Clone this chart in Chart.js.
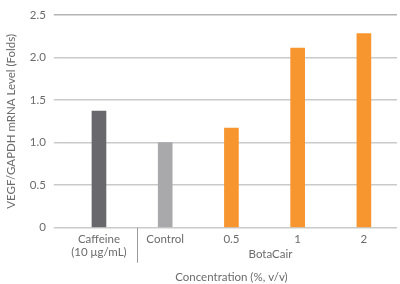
<!DOCTYPE html>
<html lang="en">
  <head>
    <meta charset="UTF-8" />
    <title>VEGF mRNA</title>
    <script src="https://cdn.jsdelivr.net/npm/chart.js@4/dist/chart.umd.min.js"></script>
    <style>
      html, body { margin: 0; padding: 0; background: #fff; }
      #wrap { width: 400px; height: 284px; }
    </style>
  </head>
  <body>
    <div id="wrap"><canvas id="chart"></canvas></div>
    <script>
      var categories = [['Caffeine', '(10 μg/mL)'], 'Control', '0.5', '1', '2'];
      var values = [1.37, 1.0, 1.17, 2.11, 2.28];
      var barColors = ['#69696d', '#a9a9ab', '#f7962f', '#f7962f', '#f7962f'];
      var groupLabel = 'BotaCair';
      var yTitle = 'VEGF/GAPDH mRNA Level (Folds)';
      var xTitle = 'Concentration (%, v/v)';

      var textColor = '#6b6b6b';
      var font = 'Lato';

      // separator under the axis and the group label
      var groupPlugin = {
        id: 'group',
        afterDraw(chart) {
          const ctx = chart.ctx;
          const x = chart.scales.x;
          const bottom = chart.chartArea.bottom;
          const p0 = x.getPixelForValue(0), p1 = x.getPixelForValue(1);
          const sep = Math.round(p0 + (p1 - p0) * 0.58);
          ctx.save();
          ctx.strokeStyle = '#9a9a9a';
          ctx.lineWidth = 1;
          ctx.beginPath();
          ctx.moveTo(sep + 0.5, bottom);
          ctx.lineTo(sep + 0.5, bottom + 35);
          ctx.stroke();
          ctx.fillStyle = textColor;
          ctx.font = '11.5px ' + font;
          ctx.textAlign = 'center';
          ctx.textBaseline = 'middle';
          ctx.fillText(groupLabel, (sep + chart.width) / 2 + 2, bottom + 27);
          ctx.restore();
        }
      };

      new Chart(document.getElementById('chart'), {
        type: 'bar',
        data: {
          labels: categories,
          datasets: [{
            data: values,
            backgroundColor: barColors,
            barThickness: 14
          }]
        },
        options: {
          responsive: true,
          maintainAspectRatio: false,
          animation: false,
          layout: { padding: { top: 8, right: 3, left: 4, bottom: 0 } },
          plugins: {
            legend: { display: false },
            tooltip: { enabled: false }
          },
          scales: {
            x: {
              grid: { display: false, drawTicks: false },
              border: { display: false },
              ticks: {
                color: textColor,
                font: { family: font, size: 11.5, lineHeight: 1.15 },
                padding: 5,
                maxRotation: 0
              },
              title: {
                display: true,
                text: xTitle,
                color: textColor,
                font: { family: font, size: 11.5 },
                padding: { top: 6, bottom: 0 }
              }
            },
            y: {
              min: 0,
              max: 2.5,
              border: { display: false },
              grid: {
                color: function (c) { return c.tick.value === 2.5 ? '#b3b3b3' : '#cacaca'; },
                lineWidth: 1.5,
                tickLength: 12
              },
              ticks: {
                stepSize: 0.5,
                color: textColor,
                font: { family: font, size: 11.5 },
                padding: 8,
                callback: function (v) { return v === 0 ? '0' : v.toFixed(1); }
              },
              title: {
                display: true,
                text: yTitle,
                color: textColor,
                font: { family: font, size: 11.5 },
                padding: { top: 0, bottom: 4 }
              }
            }
          }
        },
        plugins: [groupPlugin]
      });
    </script>
  </body>
</html>
